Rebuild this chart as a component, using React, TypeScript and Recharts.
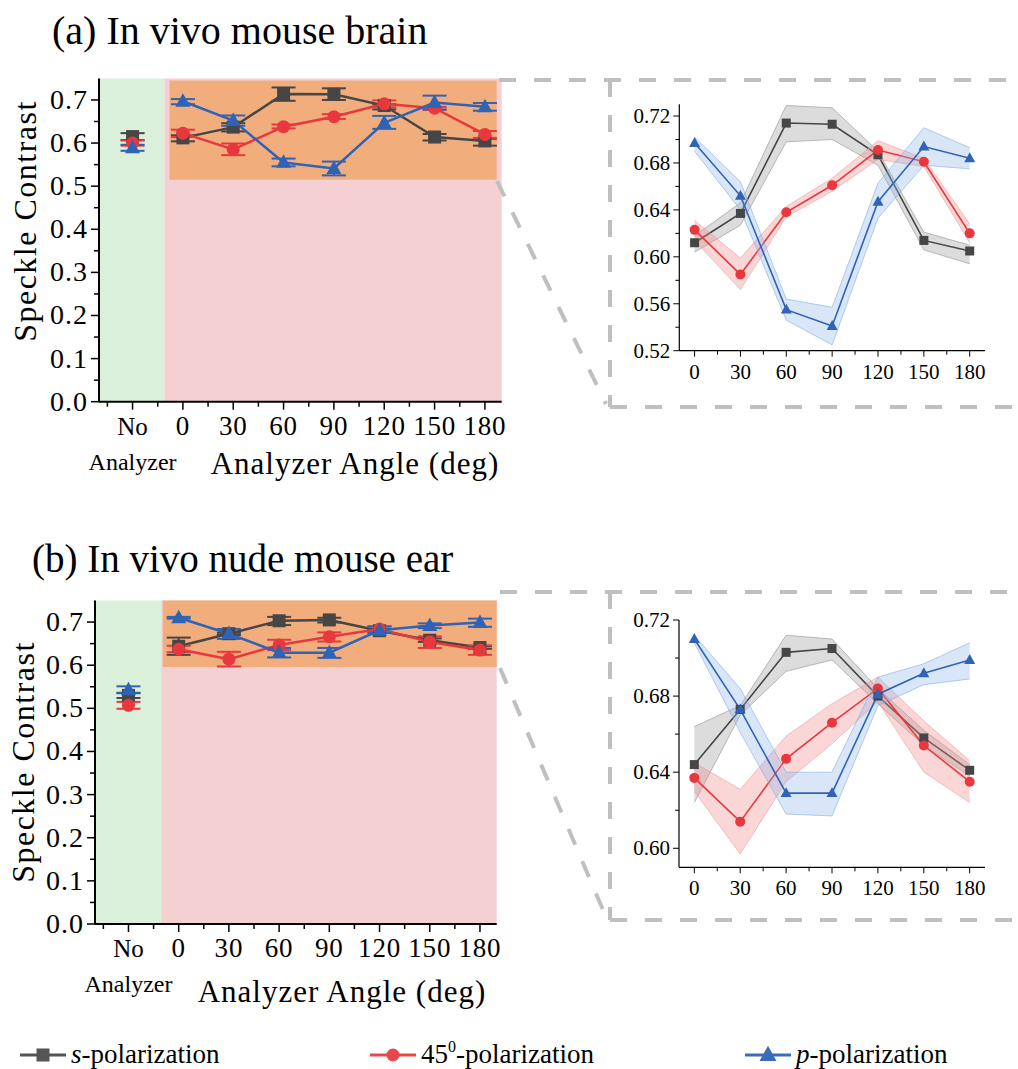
import React from "react";
import { Area, ComposedChart, ErrorBar, Line, ReferenceArea, XAxis, YAxis } from "recharts";

const FONT = '"Liberation Serif", "Times New Roman", serif';
const S_COLOR = "#464646";
const D_COLOR = "#e8383e";
const P_COLOR = "#2f63b6";
const GREEN = "#daf0da";
const PINK = "#f5d0d3";
const ORANGE = "#f2ad7c";
const FRAME = "#bfbfbf";

// x positions: angles in degrees, "No Analyzer" sits one step left of 0
const ANGLES = [0, 30, 60, 90, 120, 150, 180];
const NO_ANALYZER_X = -30;

const MAIN_X_TICKS = [-45, -30, -15, 0, 15, 30, 45, 60, 75, 90, 105, 120, 135, 150, 165, 180];
const MAIN_Y_TICKS = [0, 0.05, 0.1, 0.15, 0.2, 0.25, 0.3, 0.35, 0.4, 0.45, 0.5, 0.55, 0.6, 0.65, 0.7];
const ZOOM_X_TICKS = [0, 15, 30, 45, 60, 75, 90, 105, 120, 135, 150, 165, 180];
const ZOOM_A_Y_TICKS = [0.52, 0.54, 0.56, 0.58, 0.6, 0.62, 0.64, 0.66, 0.68, 0.7, 0.72];
const ZOOM_B_Y_TICKS = [0.6, 0.62, 0.64, 0.66, 0.68, 0.7, 0.72];

// (a) in vivo mouse brain
const A_S = [0.612, 0.637, 0.714, 0.713, 0.687, 0.614, 0.605];
const A_S_LO = [0.604, 0.627, 0.698, 0.7, 0.678, 0.606, 0.594];
const A_S_HI = [0.618, 0.646, 0.729, 0.727, 0.69, 0.621, 0.61];
const A_D = [0.623, 0.585, 0.638, 0.661, 0.691, 0.681, 0.62];
const A_D_LO = [0.614, 0.572, 0.634, 0.656, 0.683, 0.677, 0.612];
const A_D_HI = [0.631, 0.599, 0.643, 0.667, 0.699, 0.684, 0.628];
const A_P = [0.697, 0.652, 0.555, 0.541, 0.647, 0.694, 0.684];
const A_P_LO = [0.69, 0.64, 0.546, 0.525, 0.633, 0.678, 0.675];
const A_P_HI = [0.702, 0.664, 0.564, 0.557, 0.663, 0.71, 0.693];
const A_NO = [0.615, 0.6, 0.589];
const A_NO_ERR = [0.008, 0.006, 0.007];

// (b) in vivo nude mouse ear
const B_S = [0.644, 0.673, 0.703, 0.705, 0.68, 0.658, 0.641];
const B_S_LO = [0.624, 0.67, 0.693, 0.699, 0.676, 0.654, 0.638];
const B_S_HI = [0.664, 0.675, 0.712, 0.71, 0.684, 0.662, 0.644];
const B_D = [0.637, 0.614, 0.647, 0.666, 0.684, 0.654, 0.635];
const B_D_LO = [0.63, 0.597, 0.635, 0.655, 0.677, 0.64, 0.624];
const B_D_HI = [0.645, 0.631, 0.659, 0.676, 0.69, 0.667, 0.646];
const B_P = [0.71, 0.673, 0.629, 0.629, 0.681, 0.692, 0.699];
const B_P_LO = [0.708, 0.661, 0.618, 0.617, 0.675, 0.686, 0.689];
const B_P_HI = [0.712, 0.684, 0.64, 0.64, 0.69, 0.697, 0.708];
const B_NO = [0.53, 0.507, 0.543];
const B_NO_ERR = [0.006, 0.008, 0.008];

function err(v: number, lo: number, hi: number) {
  return [Math.max(v - lo, 0.002), Math.max(hi - v, 0.002)];
}

function buildRows(s, sLo, sHi, d, dLo, dHi, p, pLo, pHi) {
  return ANGLES.map((x, i) => ({
    x,
    s: s[i],
    sErr: err(s[i], sLo[i], sHi[i]),
    sBand: [sLo[i], sHi[i]],
    d: d[i],
    dErr: err(d[i], dLo[i], dHi[i]),
    dBand: [dLo[i], dHi[i]],
    p: p[i],
    pErr: err(p[i], pLo[i], pHi[i]),
    pBand: [pLo[i], pHi[i]],
  }));
}

const A_ROWS = buildRows(A_S, A_S_LO, A_S_HI, A_D, A_D_LO, A_D_HI, A_P, A_P_LO, A_P_HI);
const B_ROWS = buildRows(B_S, B_S_LO, B_S_HI, B_D, B_D_LO, B_D_HI, B_P, B_P_LO, B_P_HI);
const A_NO_ROWS = [{ x: NO_ANALYZER_X, s: A_NO[0], sErr: A_NO_ERR[0], d: A_NO[1], dErr: A_NO_ERR[1], p: A_NO[2], pErr: A_NO_ERR[2] }];
const B_NO_ROWS = [{ x: NO_ANALYZER_X, s: B_NO[0], sErr: B_NO_ERR[0], d: B_NO[1], dErr: B_NO_ERR[1], p: B_NO[2], pErr: B_NO_ERR[2] }];

function Marker({ kind, cx, cy, size, color }) {
  if (kind === "square") {
    return <rect x={cx - size / 2} y={cy - size / 2} width={size} height={size} fill={color} />;
  }
  if (kind === "circle") {
    return <circle cx={cx} cy={cy} r={size / 2} fill={color} />;
  }
  const h = size * 0.9;
  return (
    <polygon
      points={`${cx},${cy - h * 0.6} ${cx + size / 2},${cy + h * 0.4} ${cx - size / 2},${cy + h * 0.4}`}
      fill={color}
    />
  );
}

const dotFor = (kind: string, size: number, color: string) => (props: any) => {
  const { cx, cy, index } = props;
  if (cx == null || cy == null) return <g key={`${kind}-${index}`} />;
  return <Marker key={`${kind}-${index}`} kind={kind} cx={cx} cy={cy} size={size} color={color} />;
};

const MainXTick = (props: any) => {
  const { x, y, payload } = props;
  const v = payload.value;
  const major = v % 30 === 0;
  return (
    <g>
      <line x1={x} y1={y} x2={x} y2={y + (major ? 8 : 5)} stroke="#000" strokeWidth={1.5} />
      {major && v === NO_ANALYZER_X ? (
        <>
          <text x={x} y={y + 33} textAnchor="middle" fontSize={25} fontFamily={FONT} fill="#000">
            No
          </text>
          <text x={x} y={y + 68} textAnchor="middle" fontSize={24} fontFamily={FONT} fill="#000">
            Analyzer
          </text>
        </>
      ) : major ? (
        <text x={x} y={y + 33} textAnchor="middle" fontSize={27} fontFamily={FONT} fill="#000" letterSpacing={0.8}>
          {v}
        </text>
      ) : null}
    </g>
  );
};

const MainYTick = (props: any) => {
  const { x, y, payload } = props;
  const v = payload.value;
  const major = Math.round(v * 100) % 10 === 0;
  return (
    <g>
      <line x1={x - (major ? 8 : 5)} y1={y} x2={x} y2={y} stroke="#000" strokeWidth={1.5} />
      {major ? (
        <text x={x - 11} y={y + 9} textAnchor="end" fontSize={28} fontFamily={FONT} fill="#000" letterSpacing={1}>
          {v.toFixed(1)}
        </text>
      ) : null}
    </g>
  );
};

const ZoomXTick = (props: any) => {
  const { x, y, payload } = props;
  const v = payload.value;
  const major = v % 30 === 0;
  return (
    <g>
      <line x1={x} y1={y} x2={x} y2={y + (major ? 6 : 4)} stroke="#000" strokeWidth={1} />
      {major ? (
        <text x={x} y={y + 28} textAnchor="middle" fontSize={21} fontFamily={FONT} fill="#000">
          {v}
        </text>
      ) : null}
    </g>
  );
};

const ZoomYTick = (props: any) => {
  const { x, y, payload } = props;
  const v = payload.value;
  const major = Math.round(v * 100) % 4 === 0;
  return (
    <g>
      <line x1={x - (major ? 6 : 4)} y1={y} x2={x} y2={y} stroke="#000" strokeWidth={1} />
      {major ? (
        <text x={x - 9} y={y + 7} textAnchor="end" fontSize={21} fontFamily={FONT} fill="#000">
          {v.toFixed(2)}
        </text>
      ) : null}
    </g>
  );
};

function MainPanel({ rows, noRows, greenEnd, orange, margin, width, height, style }) {
  const series = [
    { key: "s", kind: "square", size: 13, color: S_COLOR },
    { key: "d", kind: "circle", size: 13, color: D_COLOR },
    { key: "p", kind: "triangle", size: 15, color: P_COLOR },
  ];
  return (
    <div style={{ position: "absolute", ...style }}>
      <ComposedChart width={width} height={height} data={rows} margin={margin}>
        <ReferenceArea x1={-50} x2={greenEnd} y1={0} y2={0.75} fill={GREEN} fillOpacity={1} stroke="none" ifOverflow="visible" />
        <ReferenceArea x1={greenEnd} x2={190} y1={0} y2={0.75} fill={PINK} fillOpacity={1} stroke="none" ifOverflow="visible" />
        <ReferenceArea x1={orange.x1} x2={orange.x2} y1={orange.y1} y2={orange.y2} fill={ORANGE} fillOpacity={1} stroke="none" ifOverflow="visible" />
        <XAxis
          type="number"
          dataKey="x"
          domain={[-50, 190]}
          ticks={MAIN_X_TICKS}
          interval={0}
          tick={MainXTick}
          tickLine={false}
          tickSize={0}
          tickMargin={0}
          height={70}
          axisLine={{ stroke: "#000", strokeWidth: 2 }}
          allowDataOverflow
        />
        <YAxis
          type="number"
          domain={[0, 0.75]}
          ticks={MAIN_Y_TICKS}
          interval={0}
          tick={MainYTick}
          tickLine={false}
          tickSize={0}
          tickMargin={0}
          width={60}
          axisLine={{ stroke: "#000", strokeWidth: 2 }}
          allowDataOverflow
        />
        {series.map((sr) => (
          <Line
            key={sr.key}
            type="linear"
            dataKey={sr.key}
            stroke={sr.color}
            strokeWidth={2.5}
            dot={dotFor(sr.kind, sr.size, sr.color)}
            activeDot={false}
            isAnimationActive={false}
          >
            <ErrorBar dataKey={`${sr.key}Err`} width={12} strokeWidth={2} stroke={sr.color} direction="y" />
          </Line>
        ))}
        {series.map((sr) => (
          <Line
            key={`no-${sr.key}`}
            data={noRows}
            type="linear"
            dataKey={sr.key}
            stroke={sr.color}
            strokeWidth={2.5}
            dot={dotFor(sr.kind, sr.size, sr.color)}
            activeDot={false}
            isAnimationActive={false}
          >
            <ErrorBar dataKey={`${sr.key}Err`} width={12} strokeWidth={2} stroke={sr.color} direction="y" />
          </Line>
        ))}
      </ComposedChart>
    </div>
  );
}

function ZoomPanel({ rows, yDomain, yTicks, margin, style }) {
  const series = [
    { key: "s", kind: "square", size: 9, color: S_COLOR, band: "#9a9a9a", edge: "#8a8a8a" },
    { key: "d", kind: "circle", size: 10, color: D_COLOR, band: "#f08a8c", edge: "#e89a9b" },
    { key: "p", kind: "triangle", size: 11, color: P_COLOR, band: "#8fb8ea", edge: "#7ea8dc" },
  ];
  let z = 1;
  return (
    <div style={{ position: "absolute", ...style }}>
      <ComposedChart width={410} height={320} data={rows} margin={margin}>
        <XAxis
          type="number"
          dataKey="x"
          domain={[-10, 190]}
          ticks={ZOOM_X_TICKS}
          interval={0}
          tick={ZoomXTick}
          tickLine={false}
          tickSize={0}
          tickMargin={0}
          height={40}
          axisLine={{ stroke: "#000", strokeWidth: 1.2 }}
          allowDataOverflow
        />
        <YAxis
          type="number"
          domain={yDomain}
          ticks={yTicks}
          interval={0}
          tick={ZoomYTick}
          tickLine={false}
          tickSize={0}
          tickMargin={0}
          width={50}
          axisLine={{ stroke: "#000", strokeWidth: 1.2 }}
          allowDataOverflow
        />
        {series.flatMap((sr) => [
          <Area
            key={`band-${sr.key}`}
            type="linear"
            dataKey={`${sr.key}Band`}
            fill={sr.band}
            fillOpacity={0.35}
            stroke={sr.edge}
            strokeOpacity={0.7}
            strokeWidth={0.8}
            dot={false}
            activeDot={false}
            isAnimationActive={false}
            zIndex={z++}
          />,
          <Line
            key={`line-${sr.key}`}
            type="linear"
            dataKey={sr.key}
            stroke={sr.color}
            strokeWidth={1.6}
            dot={dotFor(sr.kind, sr.size, sr.color)}
            activeDot={false}
            isAnimationActive={false}
            zIndex={z++}
          />,
        ])}
      </ComposedChart>
    </div>
  );
}

function LegendItem({ x, color, kind, children }) {
  return (
    <g>
      <line x1={x} x2={x + 46} y1={1055} y2={1055} stroke={color} strokeWidth={3} />
      <Marker kind={kind} cx={x + 23} cy={1055} size={kind === "triangle" ? 17 : 13} color={color} />
      <text x={x + 51} y={1063} fontSize={27} fontFamily={FONT} fill="#000">
        {children}
      </text>
    </g>
  );
}

export default function App() {
  return (
    <div style={{ position: "absolute", left: 0, top: 0, width: 1018, height: 1069, background: "#fff", overflow: "hidden" }}>
      <MainPanel
        rows={A_ROWS}
        noRows={A_NO_ROWS}
        greenEnd={-11}
        orange={{ x1: -8, x2: 187, y1: 0.515, y2: 0.745 }}
        width={520}
        height={430}
        margin={{ top: 18.4, right: 18.3, bottom: 18.3, left: 39 }}
        style={{ left: 0, top: 60 }}
      />
      <MainPanel
        rows={B_ROWS}
        noRows={B_NO_ROWS}
        greenEnd={-10.5}
        orange={{ x1: -9.5, x2: 190, y1: 0.596, y2: 0.75 }}
        width={520}
        height={440}
        margin={{ top: 20.5, right: 23.3, bottom: 26, left: 35 }}
        style={{ left: 0, top: 580 }}
      />
      <ZoomPanel
        rows={A_ROWS}
        yDomain={[0.52, 0.73]}
        yTicks={ZOOM_A_Y_TICKS}
        margin={{ top: 24.3, right: 25, bottom: 9.3, left: 29.3 }}
        style={{ left: 600, top: 80 }}
      />
      <ZoomPanel
        rows={B_ROWS}
        yDomain={[0.59, 0.72]}
        yTicks={ZOOM_B_Y_TICKS}
        margin={{ top: 25, right: 25, bottom: 7.7, left: 29 }}
        style={{ left: 600, top: 595 }}
      />
      <svg width={1018} height={1069} style={{ position: "absolute", left: 0, top: 0, pointerEvents: "none" }}>
        <text x={52} y={44} fontSize={40} fontFamily={FONT} fill="#000">
          (a) In vivo mouse brain
        </text>
        <text x={32} y={572} fontSize={39} fontFamily={FONT} fill="#000">
          (b) In vivo nude mouse ear
        </text>

        <text transform="translate(36,221) rotate(-90)" textAnchor="middle" fontSize={32} fontFamily={FONT} fill="#000" letterSpacing={1.5}>
          Speckle Contrast
        </text>
        <text transform="translate(34,762) rotate(-90)" textAnchor="middle" fontSize={32} fontFamily={FONT} fill="#000" letterSpacing={1.5}>
          Speckle Contrast
        </text>
        <text x={355} y={474} textAnchor="middle" fontSize={31} fontFamily={FONT} fill="#000" letterSpacing={1}>
          Analyzer Angle (deg)
        </text>
        <text x={342} y={1002} textAnchor="middle" fontSize={31} fontFamily={FONT} fill="#000" letterSpacing={1}>
          Analyzer Angle (deg)
        </text>

        <g stroke={FRAME} strokeWidth={4} strokeDasharray="17 18" fill="none">
          <line x1={499} y1={80} x2={1012} y2={80} />
          <line x1={610} y1={80} x2={610} y2={407} />
          <line x1={610} y1={407} x2={1012} y2={407} />
          <line x1={497} y1={181} x2={606} y2={404} />
          <line x1={500} y1={592} x2={1012} y2={592} />
          <line x1={610} y1={592} x2={610} y2={920} />
          <line x1={610} y1={920} x2={1012} y2={920} />
          <line x1={500} y1={668} x2={606} y2={917} />
        </g>

        <LegendItem x={20} color="#555" kind="square">
          <tspan fontStyle="italic">s</tspan>-polarization
        </LegendItem>
        <LegendItem x={370} color="#e8474c" kind="circle">
          45<tspan dy={-11} fontSize={16}>0</tspan>
          <tspan dy={11}>-polarization</tspan>
        </LegendItem>
        <LegendItem x={745} color="#3a6cb8" kind="triangle">
          <tspan fontStyle="italic">p</tspan>-polarization
        </LegendItem>
      </svg>
    </div>
  );
}
